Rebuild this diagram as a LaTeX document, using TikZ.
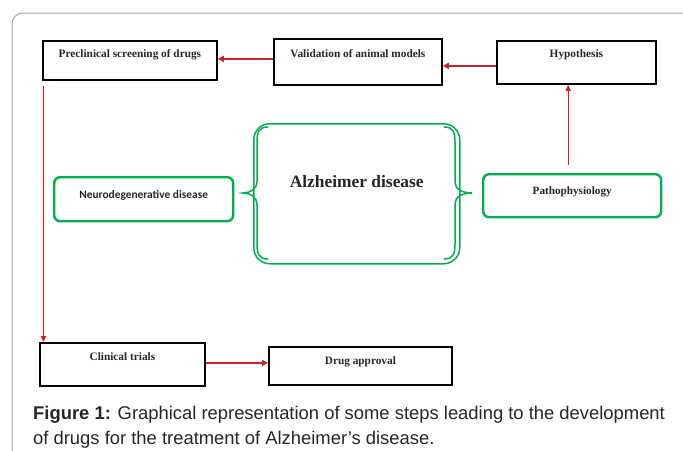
\documentclass[tikz,border=0pt]{standalone}
\usepackage{fontspec}
\setmainfont{Liberation Serif}
\newfontfamily\capfont{Liberation Sans}
\newfontfamily\calfont{Carlito}
\usetikzlibrary{arrows.meta,calc}
\definecolor{wgreen}{RGB}{0,176,80}
\definecolor{darr}{RGB}{200,35,40}
\definecolor{brr}{RGB}{255,10,10}
\definecolor{framec}{RGB}{165,165,165}
\tikzset{
  blackbox/.style={draw=black, line width=1.8pt, inner sep=0pt, anchor=north west, align=center,
     font=\fontsize{11.3}{13}\selectfont\bfseries, text=black!85},
  greenbox/.style={draw=wgreen, line width=2.4pt, rounded corners=6pt, inner sep=0pt, anchor=north west, align=center, text=black!85},
  harrow/.style={draw=darr, line width=1.6pt, -{Triangle[length=6pt,width=6pt]}},
  varrow/.style={draw=brr, line width=1.2pt, -{Triangle[length=6pt,width=5pt]}},
  alzline/.style={draw=wgreen, line width=1.5pt}
}
\begin{document}
\begin{tikzpicture}[x=1pt,y=-1pt]
\useasboundingbox (0,0) rectangle (683,450);
% frame
\draw[framec, line width=1pt, rounded corners=11pt] (12,460) -- (12,13) -- (700,13);
% boxes
\node[blackbox, minimum width=174pt, text height=17pt, text depth=22pt] (pre) at (42,40) {Preclinical screening of drugs};
\node[blackbox, minimum width=168pt, text height=19pt, text depth=27pt] (val) at (273,38) {Validation of animal models};
\node[blackbox, minimum width=159pt, text height=17pt, text depth=26pt] (hyp) at (496,40) {Hypothesis};
\node[blackbox, minimum width=165pt, text height=18pt, text depth=25pt] (cli) at (39,342) {Clinical trials};
\node[blackbox, minimum width=183pt, text height=18pt, text depth=20pt] (drug) at (268,346) {Drug approval};
\node[greenbox, minimum width=179pt, text height=21pt, text depth=23pt, font=\calfont\fontsize{11.4}{13}\selectfont\bfseries] (neu) at (53,176) {Neurodegenerative disease};
\node[greenbox, minimum width=178pt, text height=20pt, text depth=23pt, font=\fontsize{11.2}{13}\selectfont\bfseries] (pat) at (482,173) {Pathophysiology};
% Alzheimer
\node[alzline, rounded corners=16pt, inner sep=0pt, anchor=north west, minimum width=206pt, text height=64pt, text depth=76pt, font=\fontsize{17.4}{20}\selectfont\bfseries, text=black!85] (alz) at (253,123) {Alzheimer disease};
\draw[alzline] (268,127) .. controls (259,127) and (257,132) .. (257,142) -- (257,182) .. controls (257,189) and (250,193) .. (243,193) .. controls (250,193) and (257,197) .. (257,204) -- (257,244) .. controls (257,254) and (259,259) .. (268,259);
\draw[alzline] (444,127) .. controls (453,127) and (455,132) .. (455,142) -- (455,182) .. controls (455,189) and (462,193) .. (472,193) .. controls (462,193) and (455,197) .. (455,204) -- (455,244) .. controls (455,254) and (453,259) .. (444,259);
% arrows
\draw[harrow] ([yshift=3pt]val.west) -- ([yshift=3pt]val.west -| pre.east);
\draw[harrow] ([yshift=-3.5pt]hyp.west) -- ([yshift=-3.5pt]hyp.west -| val.east);
\draw[varrow] ([xshift=-4pt,yshift=8pt]pat.north) -- ([xshift=-4pt]pat.north |- hyp.south);
\draw[varrow] ([xshift=1.5pt,yshift=-5pt]pre.south west) -- ([xshift=1.5pt]pre.south west |- cli.north);
\draw[harrow] ([yshift=1.5pt]cli.east) -- ([yshift=1.5pt]cli.east -| drug.west);
% caption
\node[anchor=north west, inner sep=0pt, align=left, font=\capfont\fontsize{18.4}{24.5}\selectfont, text=black!85] (cap) at (33,406) {\textbf{Figure 1:} Graphical representation of some steps leading to the development\\of drugs for the treatment of Alzheimer’s disease.};
\end{tikzpicture}
\end{document}
